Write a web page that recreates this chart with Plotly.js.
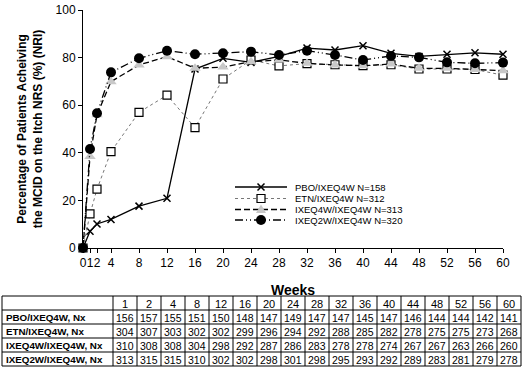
<!DOCTYPE html>
<html>
<head>
<meta charset="utf-8">
<script src="https://cdn.plot.ly/plotly-3.0.1.min.js"></script>
<style>html,body{margin:0;padding:0;background:#fff;}#chart{width:522px;height:369px;}</style>
</head>
<body>
<div id="chart"></div>
<script>
// ---- data ----
const weeks = [0, 1, 2, 4, 8, 12, 16, 20, 24, 28, 32, 36, 40, 44, 48, 52, 56, 60];
const seriesNames = ['PBO/IXEQ4W N=158', 'ETN/IXEQ4W N=312', 'IXEQ4W/IXEQ4W N=313', 'IXEQ2W/IXEQ4W N=320'];
const pboPct   = [0, 7.0, 10.1, 12.0, 17.6, 20.9, 75.2, 79.7, 78.0, 80.5, 84.0, 83.2, 85.0, 81.8, 80.5, 81.4, 82.0, 81.4];
const etnPct   = [0, 14.3, 24.7, 40.5, 57.0, 64.2, 50.6, 71.0, 79.0, 76.5, 77.5, 77.0, 76.6, 77.0, 75.2, 75.2, 75.0, 72.6];
const ixe4wPct = [0, 38.4, 56.0, 69.9, 76.9, 80.4, 75.5, 76.0, 78.3, 79.0, 77.6, 76.9, 76.6, 77.3, 75.5, 75.5, 75.0, 74.5];
const ixe2wPct = [0, 41.6, 56.6, 73.8, 79.7, 82.9, 81.4, 81.8, 82.5, 81.1, 82.9, 81.1, 79.0, 80.7, 80.1, 78.0, 77.6, 77.9];

const tableWeeks = [1, 2, 4, 8, 12, 16, 20, 24, 28, 32, 36, 40, 44, 48, 52, 56, 60];
const rowLabels = ['PBO/IXEQ4W, Nx', 'ETN/IXEQ4W, Nx', 'IXEQ4W/IXEQ4W, Nx', 'IXEQ2W/IXEQ4W, Nx'];
const nPBO   = [156, 157, 155, 151, 150, 148, 147, 149, 147, 147, 145, 147, 146, 144, 144, 142, 141];
const nETN   = [304, 307, 303, 302, 302, 299, 296, 294, 292, 288, 285, 282, 278, 275, 275, 273, 268];
const nIXE4W = [310, 308, 308, 304, 298, 292, 287, 286, 283, 278, 278, 274, 267, 267, 263, 266, 260];
const nIXE2W = [313, 315, 315, 310, 302, 302, 298, 301, 298, 295, 293, 292, 289, 283, 281, 279, 278];

const xTickVals = [0, 1, 2, 4, 8, 12, 16, 20, 24, 28, 32, 36, 40, 44, 48, 52, 56, 60];
const xTickText = ['0', '1', '2', '4', '8', '12', '16', '20', '24', '28', '32', '36', '40', '44', '48', '52', '56', '60'];
const yTickVals = [0, 20, 40, 60, 80, 100];

// ---- styles ----
const W = 522, H = 369;
const FONT = 'Liberation Sans, Arial, sans-serif';
const px = v => v / W;          // pixel -> paper x
const py = v => 1 - v / H;      // pixel -> paper y

const lineStyles = [
  {color: '#000', width: 1.3, dash: 'solid'},
  {color: '#777', width: 1, dash: 'dot'},
  {color: '#000', width: 1.3, dash: '6px,3px'},
  {color: '#000', width: 1.3, dash: '8px,3px,1px,3px,1px,3px'}
];
const markerStyles = [
  {symbol: 'x-thin-open', size: 7, color: '#000', line: {color: '#000', width: 1.5}},
  {symbol: 'square', size: 8, color: '#fff', line: {color: '#000', width: 1.2}},
  {symbol: 'triangle-up', size: 10, color: '#c8c8c8', line: {width: 0}},
  {symbol: 'circle', size: 10, color: '#000', line: {width: 0}}
];
const seriesValues = [pboPct, etnPct, ixe4wPct, ixe2wPct];

const traces = seriesValues.map((vals, i) => ({
  x: weeks, y: vals, name: seriesNames[i], type: 'scatter', mode: 'lines+markers',
  cliponaxis: false, line: lineStyles[i], marker: markerStyles[i]
}));

const shapes = [];
const annotations = [];

// ---- custom legend (compact, like the reference) ----
const legRowY = [187, 198.5, 209.5, 220];
const legX0 = 235, legX1 = 287, legMX = 261, legTX = 293;
legRowY.forEach((yy, i) => {
  shapes.push({type: 'line', xref: 'paper', yref: 'paper', x0: px(legX0), x1: px(legX1), y0: py(yy), y1: py(yy),
               line: {color: lineStyles[i].color, width: lineStyles[i].width, dash: lineStyles[i].dash}});
  annotations.push({xref: 'paper', yref: 'paper', x: px(legTX), y: py(yy), xanchor: 'left', yanchor: 'middle',
                    text: seriesNames[i], showarrow: false, font: {family: FONT, size: 9.5, color: '#000'}});
});
// legend marker symbols
(function () {
  const m = legMX;
  let y = legRowY[0], s = 3.5;
  shapes.push({type: 'path', xref: 'paper', yref: 'paper',
    path: `M${px(m - s)},${py(y - s)}L${px(m + s)},${py(y + s)}M${px(m - s)},${py(y + s)}L${px(m + s)},${py(y - s)}`,
    line: {color: '#000', width: 1.5}});
  y = legRowY[1]; s = 4;
  shapes.push({type: 'rect', xref: 'paper', yref: 'paper', x0: px(m - s), x1: px(m + s), y0: py(y - s), y1: py(y + s),
    fillcolor: '#fff', line: {color: '#000', width: 1.2}});
  y = legRowY[2]; s = 5;
  shapes.push({type: 'path', xref: 'paper', yref: 'paper',
    path: `M${px(m - s)},${py(y + 3.5)}L${px(m + s)},${py(y + 3.5)}L${px(m)},${py(y - 5)}Z`,
    fillcolor: '#c8c8c8', line: {width: 0}});
  y = legRowY[3]; s = 5;
  shapes.push({type: 'circle', xref: 'paper', yref: 'paper', x0: px(m - s), x1: px(m + s), y0: py(y - s), y1: py(y + s),
    fillcolor: '#000', line: {width: 0}});
})();

// ---- table (grid + text) ----
const tblL = 2, tblR = 521, firstColR = 113, colW = 24, tblT = 296, rowH = 14, nRows = 5;
for (let r = 0; r <= nRows; r++) {
  const yy = tblT + r * rowH;
  shapes.push({type: 'line', xref: 'paper', yref: 'paper', x0: px(tblL), x1: px(tblR), y0: py(yy), y1: py(yy),
               line: {color: '#000', width: 1}});
}
const colEdges = [tblL, firstColR].concat(tableWeeks.map((w, i) => firstColR + colW * (i + 1)));
colEdges[colEdges.length - 1] = tblR;
colEdges.forEach(xx => {
  shapes.push({type: 'line', xref: 'paper', yref: 'paper', x0: px(xx), x1: px(xx), y0: py(tblT), y1: py(tblT + nRows * rowH),
               line: {color: '#000', width: 1}});
});
const tableRows = [nPBO, nETN, nIXE4W, nIXE2W];
tableWeeks.forEach((w, i) => {
  const cx = (colEdges[i + 1] + colEdges[i + 2]) / 2;
  annotations.push({xref: 'paper', yref: 'paper', x: px(cx), y: py(tblT + rowH / 2 + 0.5), xanchor: 'center', yanchor: 'middle',
                    text: String(w), showarrow: false, font: {family: FONT, size: 11, color: '#000'}});
  tableRows.forEach((row, r) => {
    annotations.push({xref: 'paper', yref: 'paper', x: px(cx), y: py(tblT + rowH * (r + 1) + rowH / 2 + 0.5),
                      xanchor: 'center', yanchor: 'middle', text: String(row[i]), showarrow: false,
                      font: {family: FONT, size: 10.5, color: '#000'}});
  });
});
rowLabels.forEach((lab, r) => {
  annotations.push({xref: 'paper', yref: 'paper', x: px(tblL + 2), y: py(tblT + rowH * (r + 1) + rowH / 2 + 0.5),
                    xanchor: 'left', yanchor: 'middle', text: '<b>' + lab + '</b>', showarrow: false,
                    font: {family: FONT, size: 9.8, color: '#000'}});
});

const layout = {
  width: W, height: H,
  margin: {l: 0, r: 0, t: 0, b: 0, pad: 0},
  paper_bgcolor: '#fff', plot_bgcolor: '#fff',
  font: {family: FONT, color: '#000', size: 12},
  showlegend: false,
  xaxis: {domain: [px(83), px(503)], range: [0, 60], showgrid: false, zeroline: false,
          showline: true, linecolor: '#000', linewidth: 1, ticks: 'outside', ticklen: 4,
          tickcolor: '#000', tickvals: xTickVals, ticktext: xTickText, tickangle: 0,
          tickfont: {family: FONT, size: 12},
          title: {text: '<b>Weeks</b>', font: {family: FONT, size: 14}, standoff: 15}},
  yaxis: {domain: [py(248), py(10)], range: [0, 100], showgrid: false, zeroline: false,
          showline: true, linecolor: '#000', linewidth: 1, ticks: 'outside', ticklen: 4,
          tickcolor: '#000', tickvals: yTickVals,
          tickfont: {family: FONT, size: 12},
          title: {text: '<b>Percentage of Patients Acheiving<br>the MCID on the Itch NRS (%) (NRI)</b>',
                  font: {family: FONT, size: 12}, standoff: 10}},
  shapes: shapes,
  annotations: annotations
};

Plotly.newPlot('chart', traces, layout, {displayModeBar: false, staticPlot: true});
</script>
</body>
</html>
